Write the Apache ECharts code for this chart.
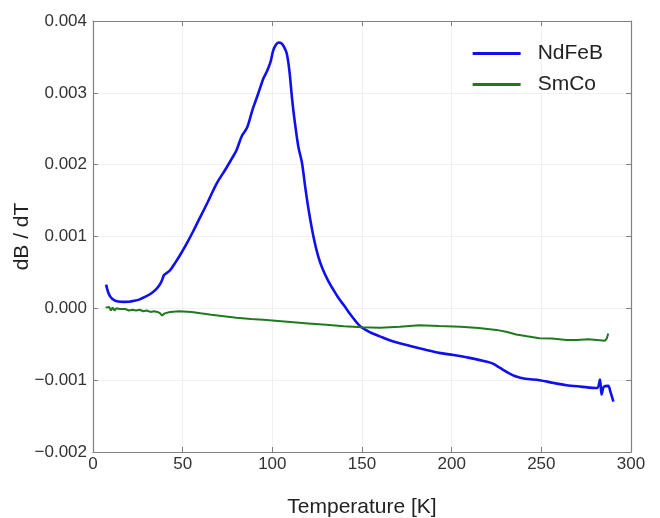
<!DOCTYPE html>
<html>
<head>
<meta charset="utf-8">
<script src="https://cdn.jsdelivr.net/npm/echarts@6/dist/echarts.min.js"></script>
<style>html,body{margin:0;padding:0;background:#fff}#c{width:660px;height:518px}</style>
</head>
<body>
<div id="c"></div>
<script>
const seriesNames = ['NdFeB', 'SmCo'];
const ndfebT = [7.3, 8.5, 10, 12, 14, 17, 20, 23, 26, 29, 32, 35, 37, 38.5, 39.5, 41, 43, 46, 49, 52, 56, 60, 64, 69, 74, 78, 80, 83, 86, 89, 92, 95, 97, 99, 100.5, 102, 103.5, 105, 106.5, 108, 109.5, 111, 112.5, 114.5, 116.5, 118.5, 120.5, 123, 125.5, 128, 131, 134, 137, 140, 144, 149, 155, 160, 165, 170, 178, 186, 193, 201, 210, 219, 223, 227, 231, 236, 241, 249, 257, 264, 272, 281, 282.7, 283.6, 284.9, 287.3, 288.5, 290.2];
const ndfebV = [0.00033, 0.00022, 0.00015, 0.00011, 0.000095, 0.00009, 0.000092, 0.000105, 0.000125, 0.00016, 0.0002, 0.00026, 0.00032, 0.00039, 0.00046, 0.00049, 0.00053, 0.00064, 0.00076, 0.00089, 0.00108, 0.00128, 0.00148, 0.00174, 0.00194, 0.00211, 0.0022, 0.0024, 0.00252, 0.00277, 0.00298, 0.0032, 0.0033, 0.00343, 0.00359, 0.00367, 0.0037, 0.00369, 0.00364, 0.00355, 0.00331, 0.00292, 0.0026, 0.00225, 0.00203, 0.00166, 0.00133, 0.00099, 0.00073, 0.00055, 0.00039, 0.00026, 0.00014, 0.00004, -0.0001, -0.00025, -0.00034, -0.00039, -0.00044, -0.00048, -0.00053, -0.00058, -0.00062, -0.00065, -0.00069, -0.00074, -0.00077, -0.00083, -0.00089, -0.00095, -0.00098, -0.001, -0.00104, -0.00107, -0.00109, -0.00111, -0.00099, -0.0012, -0.00109, -0.00108, -0.00116, -0.0013];
const smcoT = [7, 8, 9, 10, 11, 12, 13, 14, 15, 16, 18, 20, 22, 24, 26, 28, 30, 32, 34, 36, 37.5, 38.5, 40, 43, 48, 55, 60, 66, 73, 80, 88, 95, 100, 110, 120, 130, 140, 150, 160, 171, 182, 193, 205, 215, 225, 231, 236, 242, 249, 256, 264, 270, 276, 281, 285.5, 286.5, 287.3];
const smcoV = [0.00001, -0.00001, 0.00002, -0.00003, 0.00001, -0.00003, 0.0, -0.00002, -0.00001, -0.00003, -0.00001, -0.00003, -0.00002, -0.00003, -0.00002, -0.00004, -0.00003, -0.00005, -0.00004, -0.00005, -0.00007, -0.0001, -0.00007, -0.00005, -0.00004, -0.00005, -0.00007, -0.00009, -0.00011, -0.00013, -0.00015, -0.00016, -0.00017, -0.00019, -0.00021, -0.00023, -0.00025, -0.000265, -0.00027, -0.000256, -0.000235, -0.000245, -0.000255, -0.000275, -0.0003, -0.00033, -0.000365, -0.00039, -0.000415, -0.00042, -0.00044, -0.00044, -0.00043, -0.00044, -0.00045, -0.00042, -0.00035];
const xMin = 0, xMax = 300, xStep = 50;
const yMin = -0.002, yMax = 0.004, yStep = 0.001;
const xName = 'Temperature [K]';
const yName = 'dB / dT';

function pairs(t, v) { return t.map((x, i) => [x, v[i]]); }
const fmtY = v => (v < 0 ? '\u2212' : '') + Math.abs(v).toFixed(3);

const chart = echarts.init(document.getElementById('c'), null, {renderer: 'canvas'});
const axisLineStyle = {color: '#808080', width: 1.2};
const tickStyle = {show: true, inside: true, length: 5, lineStyle: {color: '#808080'}};
const labelStyle = {color: '#333', fontFamily: 'Liberation Sans', fontSize: 17};
const nameStyle = {color: '#222', fontFamily: 'Liberation Sans', fontSize: 21};
chart.setOption({
  animation: false,
  backgroundColor: '#fff',
  grid: {left: 93, right: 29, top: 21, bottom: 66, show: false, containLabel: false, outerBoundsMode: 'none'},
  legend: {
    data: seriesNames,
    orient: 'vertical',
    right: 52,
    top: 38,
    icon: 'rect',
    itemWidth: 48,
    itemHeight: 3,
    itemGap: 10,
    textStyle: {color: '#222', fontFamily: 'Liberation Sans', fontSize: 21, padding: [0, 0, 0, 12]}
  },
  xAxis: [{
    type: 'value', min: xMin, max: xMax, interval: xStep,
    name: xName, nameLocation: 'middle', nameGap: 45,
    nameTextStyle: nameStyle,
    axisLine: {show: true, onZero: false, lineStyle: axisLineStyle},
    axisTick: tickStyle,
    axisLabel: Object.assign({margin: 4}, labelStyle),
    splitLine: {show: true, lineStyle: {color: '#f0f0f0', width: 1}}
  }, {
    type: 'value', min: xMin, max: xMax, interval: xStep, position: 'top',
    axisLine: {show: true, onZero: false, lineStyle: axisLineStyle},
    axisTick: tickStyle,
    axisLabel: {show: false}, splitLine: {show: false}
  }],
  yAxis: [{
    type: 'value', min: yMin, max: yMax, interval: yStep,
    name: yName, nameLocation: 'middle', nameGap: 60, nameRotate: 90,
    nameMoveOverlap: false,
    nameTextStyle: nameStyle,
    axisLine: {show: true, onZero: false, lineStyle: axisLineStyle},
    axisTick: tickStyle,
    axisLabel: Object.assign({margin: 6, formatter: fmtY}, labelStyle),
    splitLine: {show: true, lineStyle: {color: '#f0f0f0', width: 1}}
  }, {
    type: 'value', min: yMin, max: yMax, interval: yStep, position: 'right',
    axisLine: {show: true, onZero: false, lineStyle: axisLineStyle},
    axisTick: tickStyle,
    axisLabel: {show: false}, splitLine: {show: false}
  }],
  series: [{
    name: seriesNames[0], type: 'line', data: pairs(ndfebT, ndfebV),
    showSymbol: false, smooth: 0.3, color: '#1010ee',
    lineStyle: {color: '#1010ee', width: 2.6}
  }, {
    name: seriesNames[1], type: 'line', data: pairs(smcoT, smcoV),
    showSymbol: false, smooth: false, color: '#1f7a1f',
    lineStyle: {color: '#1f7a1f', width: 2}
  }]
});
</script>
</body>
</html>
